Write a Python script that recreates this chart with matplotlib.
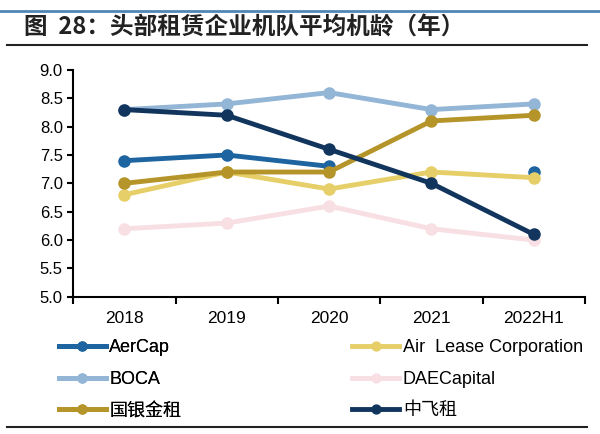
import numpy as np
import matplotlib
matplotlib.use("Agg")
import matplotlib.pyplot as plt
from matplotlib.lines import Line2D

plt.rcParams['font.family'] = ['Liberation Sans', 'Noto Sans CJK SC', 'DejaVu Sans']

years = ['2018', '2019', '2020', '2021', '2022H1']
aercap = [7.4, 7.5, 7.3, np.nan, 7.2]
air_lease = [6.8, 7.2, 6.9, 7.2, 7.1]
boca = [8.3, 8.4, 8.6, 8.3, 8.4]
dae = [6.2, 6.3, 6.6, 6.2, 6.0]
guoyin = [7.0, 7.2, 7.2, 8.1, 8.2]
zhongfei = [8.3, 8.2, 7.6, 7.0, 6.1]

series = [
    ('AerCap', aercap, '#1d64a0'),
    ('Air  Lease Corporation', air_lease, '#e6cf68'),
    ('BOCA', boca, '#93b5d6'),
    ('DAECapital', dae, '#f7dfe4'),
    ('国银金租', guoyin, '#b5952a'),
    ('中飞租', zhongfei, '#12355d'),
]

fig = plt.figure(figsize=(6, 4.34), dpi=100)

# header strip and title
fig.add_artist(Line2D([0.0, 1.0], [0.975, 0.975], color='#4f86b5', lw=2))
fig.text(0.04, 0.938, '图  28：头部租赁企业机队平均机龄（年）', fontsize=17,
         fontweight='bold', color='#222222', va='center',
         family=['Noto Sans CJK SC', 'DejaVu Sans'])
fig.add_artist(Line2D([0.012, 0.978], [0.896, 0.896], color='#222222', lw=1.5))
fig.add_artist(Line2D([0.012, 0.978], [0.015, 0.015], color='#222222', lw=1.5))

ax = fig.add_axes([0.122, 0.316, 0.853, 0.523])
x = np.arange(len(years))
handles = []
for name, vals, col in series:
    h, = ax.plot(x, vals, color=col, lw=3.5, marker='o', markersize=8, label=name)
    handles.append(h)

ax.set_xlim(-0.5, len(years) - 0.5)
ax.set_ylim(5.0, 9.0)
yt = np.arange(5.0, 9.01, 0.5)
ax.set_yticks(yt)
ax.set_yticklabels([f'{v:.1f}' for v in yt], fontsize=12)
ax.set_xticks(np.arange(-0.5, len(years), 1.0))
ax.set_xticklabels([])
ax.set_xticks(x, minor=True)
ax.set_xticklabels(years, minor=True, fontsize=12.5)
ax.tick_params(axis='x', which='minor', length=0, pad=10)
ax.tick_params(axis='x', which='major', length=5, width=1.5)
ax.tick_params(axis='y', length=4, width=1.5)
for s in ['top', 'right']:
    ax.spines[s].set_visible(False)
for s in ['left', 'bottom']:
    ax.spines[s].set_linewidth(1.5)

# legend in two columns, row-wise like the original
kw = dict(loc='upper left', frameon=False, fontsize=13, handlelength=2.6,
          handletextpad=0.2, labelspacing=0.8, borderaxespad=0, borderpad=0,
          markerscale=0.8)
leg1 = fig.legend(handles=handles[0::2], bbox_to_anchor=(0.098, 0.218), **kw)
fig.legend(handles=handles[1::2], bbox_to_anchor=(0.587, 0.218), **kw)
fig.add_artist(leg1)

fig.savefig('out.png', dpi=100)
